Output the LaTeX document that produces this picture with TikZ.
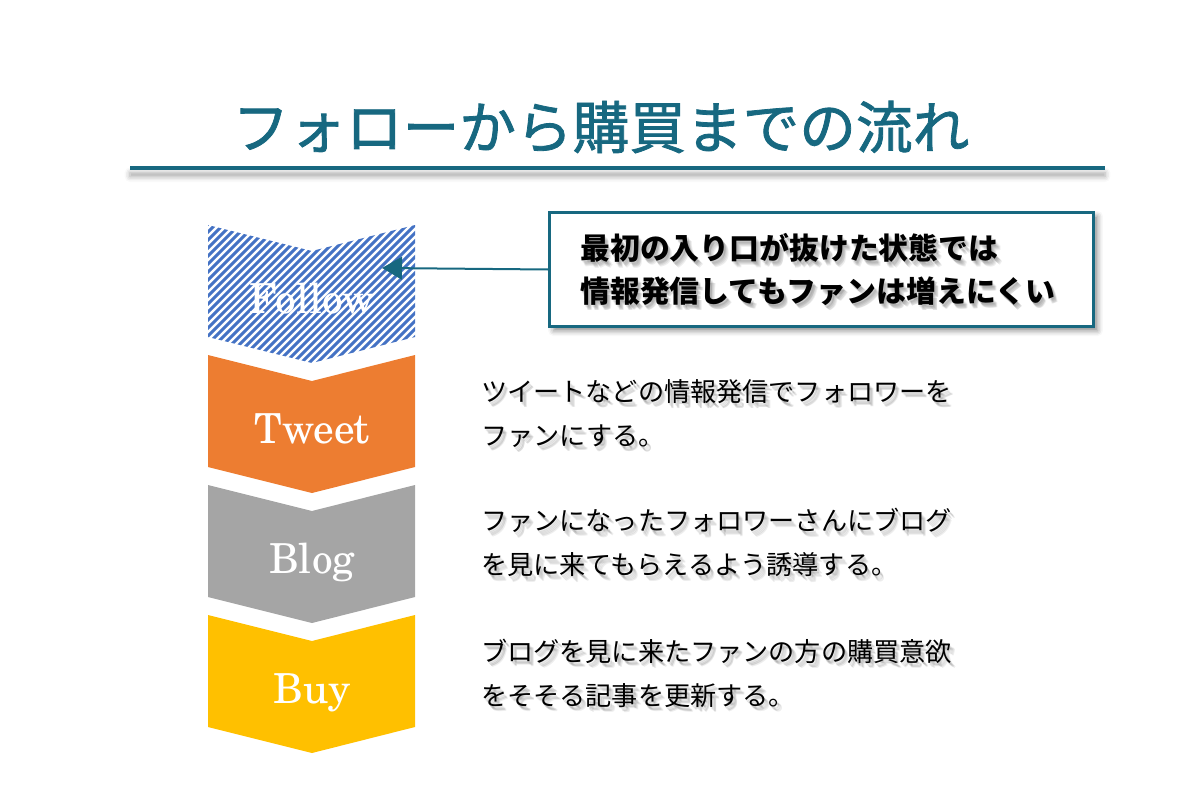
\documentclass[tikz,border=0pt]{standalone}
\usepackage{fontspec}
\usepackage{tikz}
\newfontfamily\jpfont{Noto Sans CJK JP}
\newfontfamily\titlefont[FakeBold=1.4]{Noto Sans CJK JP}
\newfontfamily\stagefont{TeX Gyre Schola}
\definecolor{flowTeal}{RGB}{23,104,128}
\definecolor{followBlue}{RGB}{68,114,196}
\definecolor{tweetOrange}{RGB}{237,125,49}
\definecolor{blogGray}{RGB}{165,165,165}
\definecolor{buyYellow}{RGB}{255,192,0}
\usetikzlibrary{arrows.meta, calc, shadows.blur}
\tikzstyle{stageLabel} = [text=white, font=\stagefont\fontsize{31}{31}\selectfont, anchor=base, inner sep=0pt]
\tikzstyle{descText} = [font=\jpfont\fontsize{19.6}{33}\selectfont, align=left, anchor=west, inner sep=0pt]
\tikzstyle{noteText} = [font=\jpfont\bfseries\fontsize{22.4}{32}\selectfont, align=left, anchor=west, inner sep=0pt]
\tikzstyle{noteBox} = [draw=flowTeal, line width=2.25pt, fill=white, minimum width=408pt, minimum height=86pt, blur shadow={shadow xshift=3pt, shadow yshift=-3pt, shadow blur radius=4pt, shadow opacity=45}]
\tikzstyle{pointer} = [-{Triangle[length=15pt, width=17pt]}, flowTeal, line width=1.5pt]
% one chevron, top edge at #1
\newcommand{\chevpath}[1]{(208,#1) -- (312,#1+26) -- (415,#1) -- (415,#1+112) -- (312,#1+138) -- (208,#1+112) -- cycle}
% text with a soft shadow: name, style, position, text
\newcommand{\softnode}[4]{%
  \foreach \s in {1,...,5}
    \node[#2, text=black, text opacity=0.07] at ($(#3)+(0.5+\s*0.8,1.5+\s*0.8)$) {#4};
  \node[#2] (#1) at (#3) {#4};
}
\begin{document}
\begin{tikzpicture}[x=0.75pt, y=-0.75pt]
        \useasboundingbox (0,0) rectangle (1200,799);
        % Title
        \node [font=\titlefont\fontsize{42.5}{42.5}\selectfont, text=flowTeal] (title) at (601,127) {フォローから購買までの流れ};
        \fill [flowTeal, blur shadow={shadow xshift=0pt, shadow yshift=-5pt, shadow blur radius=4pt, shadow opacity=35}] (130,166) rectangle (1105,170);
        
        % Chevrons
        \begin{scope}
            \clip \chevpath{225};
            \foreach \x in {0,8,...,400}
                \draw [followBlue, line width=2.2pt] (\x,400) -- (\x+200,200);
        \end{scope}
        \fill [tweetOrange] \chevpath{355};
        \fill [blogGray] \chevpath{485};
        \fill [buyYellow] \chevpath{615};
        
        \node [stageLabel] (follow) at (312,313) {Follow};
        \node [stageLabel] (tweet) at (312,443) {Tweet};
        \node [stageLabel] (blog) at (312,573) {Blog};
        \node [stageLabel] (buy) at (312,703) {Buy};
        
        % Note
        \node [noteBox] (note) at (821.5,269.5) {};
        \softnode{notetext}{noteText}{580,269.5}{最初の入り口が抜けた状態では\\情報発信してもファンは増えにくい}
        \coordinate (followtip) at (382,268);
        \draw [pointer] (note.west) -- (followtip);
        
        % Descriptions
        \softnode{tweetdesc}{descText}{481,413.5}{ツイートなどの情報発信でフォロワーを\\ファンにする。}
        \softnode{blogdesc}{descText}{481,542.5}{ファンになったフォロワーさんにブログ\\を見に来てもらえるよう誘導する。}
        \softnode{buydesc}{descText}{481,673}{ブログを見に来たファンの方の購買意欲\\をそそる記事を更新する。}
    \end{tikzpicture}
\end{document}
